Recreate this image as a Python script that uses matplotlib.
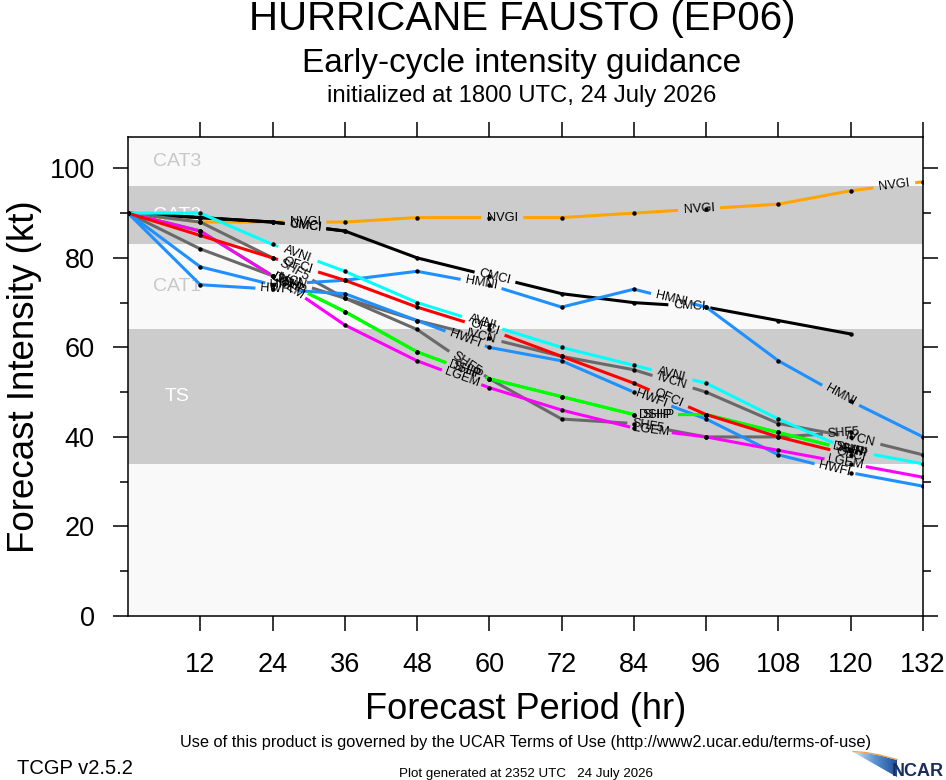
import numpy as np
import matplotlib
import matplotlib.pyplot as plt
from matplotlib.patches import Polygon
from matplotlib.colors import LinearSegmentedColormap

matplotlib.use('agg')
plt.rcParams['font.family'] = ['Liberation Sans', 'DejaVu Sans']

W, H = 946, 780

# forecast hours and model intensities (kt)
HOURS = [0, 12, 24, 36, 48, 60, 72, 84, 96, 108, 120, 132]

NVGI = [90, 88, 88, 88, 89, 89, 89, 90, 91, 92, 95, 97]
CMCI = [90, 89, 88, 86, 80, 76, 72, 70, 69, 66, 63]
UMCI = [90, 89, 88, 86]
IVCN = [90, 82, 76, 71, 66, 62, 58, 55, 50, 43, 40, 36]
SHF5 = [90, 88, 80, 71, 64, 53, 44, 43, 40, 40, 41]
HMNI = [90, 78, 74, 75, 77, 74, 69, 73, 69, 57, 48, 40]
HWFI = [90, 74, 73, 72, 66, 60, 57, 50, 44, 36, 32, 29]
SHIP = [90, 86, 76, 68, 59, 53, 49, 45, 45, 41, 37]
DSHP = [90, 86, 76, 68, 59, 53, 49, 45, 45, 41, 37]
LGEM = [90, 86, 76, 65, 57, 51, 46, 42, 40, 37, 34, 31]
AVNI = [90, 90, 83, 77, 70, 65, 60, 56, 52, 44, 37, 34]
OFCI = [90, 85, 80, 75, 69, 64, 58, 52, 45, 40, 36]

MODELS = [
    ("NVGI", NVGI, "#ffa500"),
    ("CMCI", CMCI, "#000000"),
    ("UMCI", UMCI, "#000000"),
    ("IVCN", IVCN, "#696969"),
    ("SHF5", SHF5, "#696969"),
    ("HMNI", HMNI, "#1e90ff"),
    ("HWFI", HWFI, "#1e90ff"),
    ("SHIP", SHIP, "#00ff00"),
    ("DSHP", DSHP, "#00ff00"),
    ("LGEM", LGEM, "#ff00ff"),
    ("AVNI", AVNI, "#00ffff"),
    ("OFCI", OFCI, "#ff0000"),
]

# Saffir-Simpson bands
BAND_EDGES = [0, 34, 64, 83, 96, 107]
BAND_NAMES = ["", "TS", "CAT1", "CAT2", "CAT3"]
BAND_FILL = ["#f9f9f9", "#cccccc", "#f9f9f9", "#cccccc", "#f9f9f9"]
BAND_TEXT = ["#c8c8c8", "#ffffff", "#c8c8c8", "#ffffff", "#c8c8c8"]

# line label placement, in pixels along each line
LABEL_FIRST = 178
LABEL_STEP = 197
LABEL_GAP = 21
LABEL_TAIL = 12


def px(x, y):
    return x / W, 1 - y / H


def draw_model(ax, name, vals, color):
    hrs = np.array(HOURS[:len(vals)], float)
    vals = np.array(vals, float)
    disp = ax.transData.transform(np.column_stack([hrs, vals]))
    seg = np.hypot(np.diff(disp[:, 0]), np.diff(disp[:, 1]))
    cum = np.concatenate([[0.0], np.cumsum(seg)])
    total = cum[-1]
    spots = np.minimum(np.arange(LABEL_FIRST, total + LABEL_TAIL, LABEL_STEP), total)
    inv = ax.transData.inverted()

    cuts = [0.0]
    for s in spots:
        cuts += [s - LABEL_GAP, s + LABEL_GAP]
    cuts.append(total)
    for a, b in zip(cuts[0::2], cuts[1::2]):
        a, b = max(a, 0.0), min(b, total)
        if b <= a:
            continue
        s = np.concatenate([[a], cum[(cum > a) & (cum < b)], [b]])
        xy = np.column_stack([np.interp(s, cum, disp[:, 0]), np.interp(s, cum, disp[:, 1])])
        d = inv.transform(xy)
        ax.plot(d[:, 0], d[:, 1], color=color, lw=2.2, solid_capstyle='butt', zorder=2)

    ax.plot(hrs, vals, ls='none', marker='o', ms=3.2, mew=0, color='black', zorder=3)

    for s in spots:
        x = np.interp(s, cum, disp[:, 0])
        y = np.interp(s, cum, disp[:, 1])
        i = min(max(np.searchsorted(cum, s) - 1, 0), len(seg) - 1)
        ang = np.degrees(np.arctan2(disp[i + 1, 1] - disp[i, 1], disp[i + 1, 0] - disp[i, 0]))
        hx, hy = inv.transform((x, y))
        ax.text(hx, hy, name, rotation=ang, rotation_mode='anchor', ha='center', va='center',
                fontsize=9.2, color='black', zorder=4)


fig = plt.figure(figsize=(W / 100, H / 100), dpi=100)
ax = fig.add_axes([128 / W, 164 / H, 795 / W, 479 / H])
ax.set_xlim(0, 132)
ax.set_ylim(0, BAND_EDGES[-1])

for lo, hi, name, fill, tcol in zip(BAND_EDGES[:-1], BAND_EDGES[1:], BAND_NAMES, BAND_FILL, BAND_TEXT):
    ax.axhspan(lo, hi, color=fill, lw=0, zorder=0)
    if name:
        ax.text(8.1, (lo + hi) / 2, name, ha='center', va='center', fontsize=14, color=tcol, zorder=1)

for name, vals, color in MODELS:
    draw_model(ax, name, vals, color)

ax.set_xticks(HOURS[1:])
ax.set_yticks(range(0, 101, 20))
ax.set_yticks(range(10, 100, 20), minor=True)
ax.tick_params(which='both', direction='out', top=True, right=True, width=1.1, labelsize=19.5)
ax.tick_params(which='major', length=11)
ax.tick_params(which='minor', length=5.8)
ax.tick_params(axis='x', pad=15)
ax.tick_params(axis='y', pad=13)
for sp in ax.spines.values():
    sp.set_linewidth(1.1)

fig.text(*px(522, 30), "HURRICANE FAUSTO (EP06)", ha='center', va='baseline', fontsize=29)
fig.text(*px(522, 72), "Early-cycle intensity guidance", ha='center', va='baseline', fontsize=24)
fig.text(*px(522, 102), "initialized at 1800 UTC, 24 July 2026", ha='center', va='baseline', fontsize=17.2)
fig.text(*px(25, 376.5), "Forecast Intensity (kt)", rotation=90, ha='center', va='center', fontsize=26.5)
fig.text(*px(526, 719), "Forecast Period (hr)", ha='center', va='baseline', fontsize=26)
fig.text(*px(526, 747), "Use of this product is governed by the UCAR Terms of Use (http://www2.ucar.edu/terms-of-use)",
         ha='center', va='baseline', fontsize=11.8)
fig.text(*px(17, 774), "TCGP v2.5.2", ha='left', va='baseline', fontsize=14.5)
fig.text(*px(526, 777), "Plot generated at 2352 UTC   24 July 2026", ha='center', va='baseline', fontsize=9.6)

# NCAR logo
lax = fig.add_axes([845 / W, 0, 101 / W, 32 / H])
lax.set_xlim(845, 946)
lax.set_ylim(780, 748)
lax.axis('off')
wedge = Polygon([(853, 752), (866, 753), (880, 755.5), (897, 760), (897, 777)], closed=True,
                facecolor='none', edgecolor='none')
lax.add_patch(wedge)
blues = LinearSegmentedColormap.from_list("ncar", ["#d6e6f5", "#5b93d1", "#1f4f9c"])
img = lax.imshow(np.linspace(0, 1, 100)[None, :], extent=[853, 897, 777, 750], cmap=blues, aspect='auto')
img.set_clip_path(wedge)
lax.plot([853, 866, 880, 897], [751.5, 752.5, 755, 759.5], color='#f0a050', lw=0.9)
lax.text(944, 775.5, "NCAR", ha='right', va='baseline', fontsize=13, fontweight='bold',
         fontfamily=['Liberation Sans Narrow', 'Liberation Sans'], color='#1c2d5c')

fig.savefig("out.png", dpi=100)
